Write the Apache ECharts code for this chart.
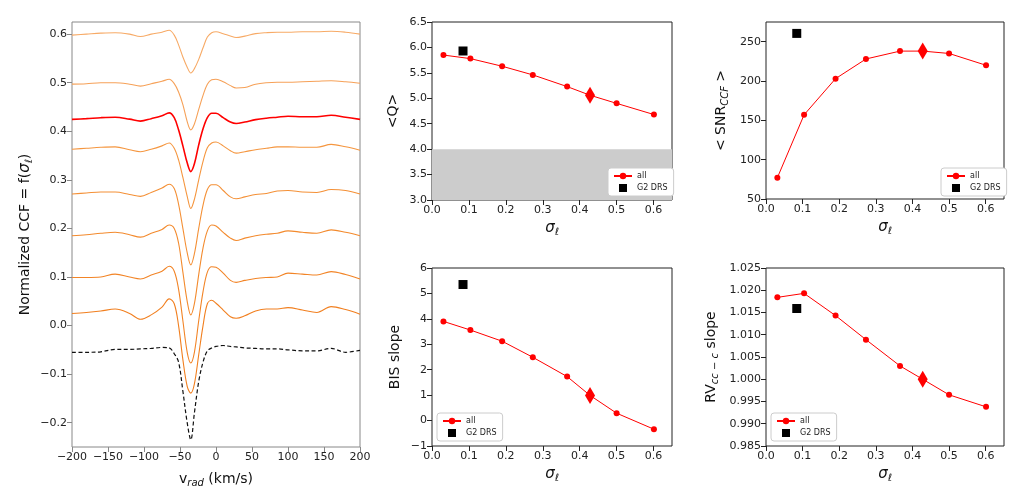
<!DOCTYPE html>
<html>
<head>
<meta charset="utf-8">
<script src="https://cdn.jsdelivr.net/npm/echarts@6/dist/echarts.min.js"></script>
<style>
  html, body { margin: 0; padding: 0; background: #fff; }
  #main { width: 1027px; height: 504px; }
</style>
</head>
<body>
<div id="main"></div>
<script>
// radial velocity grid (km/s) shared by all CCF curves
const vel = [-200, -180, -160, -140, -120, -105, -90, -75, -65, -58, -52, -46, -40, -35, -30, -24, -18, -12, -6, 0, 10, 20, 28, 40, 55, 70, 85, 100, 120, 140, 160, 180, 200];

// normalized CCF curves, top to bottom (already offset)
const ccf1 = [0.598, 0.600, 0.602, 0.603, 0.600, 0.595, 0.600, 0.604, 0.608, 0.598, 0.578, 0.553, 0.532, 0.520, 0.529, 0.548, 0.572, 0.594, 0.603, 0.605, 0.601, 0.596, 0.593, 0.596, 0.601, 0.603, 0.604, 0.604, 0.605, 0.605, 0.606, 0.604, 0.600];
const ccf2 = [0.497, 0.498, 0.500, 0.500, 0.497, 0.493, 0.498, 0.503, 0.507, 0.498, 0.481, 0.455, 0.420, 0.403, 0.415, 0.445, 0.474, 0.497, 0.506, 0.507, 0.502, 0.494, 0.489, 0.490, 0.497, 0.500, 0.501, 0.501, 0.502, 0.503, 0.504, 0.502, 0.499];
const ccfBest = [0.4245, 0.426, 0.428, 0.429, 0.425, 0.421, 0.426, 0.432, 0.438, 0.428, 0.403, 0.370, 0.335, 0.317, 0.333, 0.372, 0.405, 0.428, 0.437, 0.437, 0.428, 0.419, 0.416, 0.419, 0.424, 0.427, 0.429, 0.431, 0.430, 0.430, 0.433, 0.429, 0.4245];
const ccf4 = [0.363, 0.365, 0.367, 0.368, 0.362, 0.358, 0.363, 0.370, 0.376, 0.365, 0.341, 0.305, 0.266, 0.241, 0.260, 0.300, 0.338, 0.366, 0.376, 0.378, 0.370, 0.360, 0.355, 0.358, 0.362, 0.365, 0.368, 0.368, 0.367, 0.367, 0.373, 0.368, 0.361];
const ccf5 = [0.271, 0.273, 0.275, 0.275, 0.270, 0.266, 0.274, 0.283, 0.291, 0.282, 0.250, 0.200, 0.150, 0.125, 0.148, 0.200, 0.248, 0.280, 0.290, 0.290, 0.278, 0.265, 0.261, 0.265, 0.270, 0.272, 0.277, 0.278, 0.275, 0.274, 0.280, 0.278, 0.271];
const ccf6 = [0.185, 0.187, 0.190, 0.192, 0.187, 0.182, 0.190, 0.198, 0.207, 0.200, 0.170, 0.110, 0.050, 0.022, 0.045, 0.105, 0.160, 0.195, 0.207, 0.205, 0.192, 0.180, 0.175, 0.180, 0.185, 0.188, 0.190, 0.195, 0.192, 0.190, 0.197, 0.192, 0.185];
const ccf7 = [0.099, 0.099, 0.100, 0.106, 0.100, 0.096, 0.104, 0.112, 0.122, 0.112, 0.075, 0.010, -0.055, -0.077, -0.055, 0.010, 0.070, 0.110, 0.121, 0.120, 0.108, 0.093, 0.089, 0.093, 0.097, 0.099, 0.100, 0.108, 0.106, 0.104, 0.111, 0.105, 0.096];
const ccf8 = [0.025, 0.027, 0.030, 0.034, 0.025, 0.013, 0.022, 0.038, 0.055, 0.045, 0.000, -0.070, -0.125, -0.139, -0.120, -0.060, 0.000, 0.045, 0.052, 0.046, 0.032, 0.018, 0.015, 0.020, 0.030, 0.034, 0.034, 0.037, 0.032, 0.027, 0.039, 0.033, 0.0235];
const ccfDrs = [-0.055, -0.055, -0.054, -0.049, -0.049, -0.048, -0.047, -0.045, -0.046, -0.058, -0.075, -0.135, -0.200, -0.235, -0.180, -0.115, -0.075, -0.052, -0.046, -0.043, -0.041, -0.043, -0.044, -0.046, -0.047, -0.048, -0.048, -0.050, -0.052, -0.052, -0.047, -0.055, -0.051];

// mask width sigma_l and the derived quantities
const sigma = [0.031, 0.104, 0.19, 0.273, 0.366, 0.428, 0.5, 0.601];
const meanQ = [5.85, 5.78, 5.63, 5.46, 5.23, 5.06, 4.90, 4.68];
const meanSnr = [77, 157, 203, 228, 238, 238, 235, 220];
const bisSlope = [3.90, 3.56, 3.12, 2.49, 1.73, 0.99, 0.29, -0.34];
const rvSlope = [1.0184, 1.0193, 1.0143, 1.0089, 1.0030, 1.0000, 0.9965, 0.9938];
const bestIdx = 5;

// G2 DRS reference values
const g2Sigma = 0.084;
const g2Q = 5.93;
const g2Snr = 260.5;
const g2Bis = 5.35;
const g2Rv = 1.0159;

const ccfCurves = [ccf1, ccf2, ccfBest, ccf4, ccf5, ccf6, ccf7, ccf8];
const ccfColors = ['#f7aa66', '#f6a158', '#ff0000', '#f5963f', '#f49036', '#f38a2d', '#f28426', '#f17f1f'];

const FONT = 'DejaVu Sans';
const minus = (s) => String(s).replace('-', '\u2212');
const sigmaTicks = [0, 0.1, 0.2, 0.3, 0.4, 0.5, 0.6];

const richName = {
  i: { fontFamily: FONT, fontStyle: 'italic', fontSize: 15, color: '#111' },
  sub: { fontFamily: FONT, fontStyle: 'italic', fontSize: 10, color: '#111', verticalAlign: 'bottom', padding: [7, 0, 0, 0] },
  t: { fontFamily: FONT, fontSize: 14, color: '#111' }
};

function xAx(gridIndex, opts) {
  return Object.assign({
    type: 'value',
    gridIndex: gridIndex,
    nameLocation: 'middle',
    axisLine: { show: false, onZero: false },
    axisTick: { show: true, length: 5, lineStyle: { color: '#222' } },
    axisLabel: { fontFamily: FONT, fontSize: 11, color: '#222', margin: 5 },
    splitLine: { show: false },
    nameTextStyle: { rich: richName }
  }, opts);
}

function yAx(gridIndex, opts) {
  return xAx(gridIndex, Object.assign({ nameRotate: 90 }, opts));
}

function sigmaAxis(gridIndex) {
  return xAx(gridIndex, {
    min: 0, max: 0.65,
    axisTick: { show: true, length: 5, lineStyle: { color: '#222' }, customValues: sigmaTicks },
    axisLabel: { fontFamily: FONT, fontSize: 11, color: '#222', margin: 5, customValues: sigmaTicks, formatter: (v) => v.toFixed(1) },
    name: '{i|σ}{sub|ℓ}',
    nameGap: 20
  });
}

const gridBox = { show: true, borderColor: '#222', borderWidth: 1, backgroundColor: 'transparent' };

function legendAt(left, top) {
  return {
    left: left, top: top,
    orient: 'vertical',
    data: ['all', { name: 'G2 DRS', icon: 'path://M0,0L10,0L10,10L0,10Z' }],
    backgroundColor: '#fff',
    borderColor: '#cccccc',
    borderWidth: 1,
    borderRadius: 3,
    padding: [4, 6, 4, 5],
    itemGap: 4,
    itemWidth: 18,
    itemHeight: 8,
    selectedMode: false,
    textStyle: { fontFamily: FONT, fontSize: 8, color: '#222' }
  };
}

function panelSeries(idx, values, g2Value, gray) {
  const line = {
    name: 'all',
    type: 'line',
    xAxisIndex: idx, yAxisIndex: idx,
    data: sigma.map((s, i) => [s, values[i]]),
    symbol: 'circle',
    symbolSize: 6,
    lineStyle: { color: '#ff0000', width: 1 },
    itemStyle: { color: '#ff0000' },
    z: 3
  };
  if (gray) {
    line.markArea = {
      silent: true,
      itemStyle: { color: '#cccccc' },
      data: [[{ yAxis: 3 }, { yAxis: 4 }]]
    };
  }
  return [
    line,
    {
      name: 'best', type: 'scatter',
      xAxisIndex: idx, yAxisIndex: idx,
      data: [[sigma[bestIdx], values[bestIdx]]],
      symbol: 'diamond', symbolSize: [10, 17],
      itemStyle: { color: '#ff0000', opacity: 1 },
      z: 4
    },
    {
      name: 'G2 DRS', type: 'scatter',
      xAxisIndex: idx, yAxisIndex: idx,
      data: [[g2Sigma, g2Value]],
      symbol: 'rect', symbolSize: 9,
      symbolKeepAspect: true,
      itemStyle: { color: '#000', opacity: 1 },
      z: 4
    }
  ];
}

const leftTicksY = [-0.2, -0.1, 0, 0.1, 0.2, 0.3, 0.4, 0.5, 0.6];

const option = {
  animation: false,
  backgroundColor: '#fff',
  grid: [
    Object.assign({ left: 72, top: 22, width: 288, height: 425 }, gridBox, { borderColor: '#888' }),
    Object.assign({ left: 432, top: 22, width: 240, height: 178 }, gridBox),
    Object.assign({ left: 766, top: 22, width: 238, height: 177 }, gridBox),
    Object.assign({ left: 432, top: 268, width: 240, height: 178 }, gridBox),
    Object.assign({ left: 766, top: 268, width: 238, height: 178 }, gridBox)
  ],
  legend: [legendAt(608, 168), legendAt(941, 168), legendAt(437, 413), legendAt(771, 413)],
  xAxis: [
    xAx(0, {
      min: -200, max: 200, interval: 50,
      axisTick: { show: true, length: 5, lineStyle: { color: '#888' } },
      axisLabel: { fontFamily: FONT, fontSize: 11, color: '#222', margin: 5, formatter: minus },
      name: '{t|v}{sub|rad}{t| (km/s)}',
      nameGap: 24
    }),
    sigmaAxis(1), sigmaAxis(2), sigmaAxis(3), sigmaAxis(4)
  ],
  yAxis: [
    yAx(0, {
      min: -0.25, max: 0.625,
      axisTick: { show: true, length: 5, lineStyle: { color: '#888' }, customValues: leftTicksY },
      axisLabel: { fontFamily: FONT, fontSize: 11, color: '#222', margin: 5, customValues: leftTicksY, formatter: (v) => minus(v.toFixed(1)) },
      name: '{t|Normalized CCF = f(}{i|σ}{sub|ℓ}{t|)}',
      nameGap: 38
    }),
    yAx(1, {
      min: 3, max: 6.5, interval: 0.5,
      axisLabel: { fontFamily: FONT, fontSize: 11, color: '#222', margin: 5, formatter: (v) => v.toFixed(1) },
      name: '{t|<Q>}',
      nameGap: 32
    }),
    yAx(2, {
      min: 50, max: 275,
      axisTick: { show: true, length: 5, lineStyle: { color: '#222' }, customValues: [50, 100, 150, 200, 250] },
      axisLabel: { fontFamily: FONT, fontSize: 11, color: '#222', margin: 5, customValues: [50, 100, 150, 200, 250] },
      name: '{t|< SNR}{sub|CCF}{t| >}',
      nameGap: 36
    }),
    yAx(3, {
      min: -1, max: 6, interval: 1,
      axisLabel: { fontFamily: FONT, fontSize: 11, color: '#222', margin: 5, formatter: minus },
      name: '{t|BIS slope}',
      nameGap: 30
    }),
    yAx(4, {
      min: 0.985, max: 1.025, interval: 0.005,
      axisLabel: { fontFamily: FONT, fontSize: 11, color: '#222', margin: 5, formatter: (v) => v.toFixed(3) },
      name: '{t|RV}{sub|cc − c}{t| slope}',
      nameGap: 46
    })
  ],
  series: []
};

// CCF curves in the left panel
ccfCurves.forEach((curve, k) => {
  option.series.push({
    name: 'ccf' + k,
    type: 'line',
    xAxisIndex: 0, yAxisIndex: 0,
    data: vel.map((v, i) => [v, curve[i]]),
    smooth: 0.35,
    symbol: 'none',
    lineStyle: { color: ccfColors[k], width: k === 2 ? 1.6 : 1.1 },
    z: k === 2 ? 3 : 2
  });
});
option.series.push({
  name: 'drs',
  type: 'line',
  xAxisIndex: 0, yAxisIndex: 0,
  data: vel.map((v, i) => [v, ccfDrs[i]]),
  smooth: 0.35,
  symbol: 'none',
  lineStyle: { color: '#111', width: 1.2, type: [4, 2.5] },
  z: 2
});

option.series.push(...panelSeries(1, meanQ, g2Q, true));
option.series.push(...panelSeries(2, meanSnr, g2Snr, false));
option.series.push(...panelSeries(3, bisSlope, g2Bis, false));
option.series.push(...panelSeries(4, rvSlope, g2Rv, false));

const myChart = echarts.init(document.getElementById('main'));
myChart.setOption(option);
</script>
</body>
</html>
